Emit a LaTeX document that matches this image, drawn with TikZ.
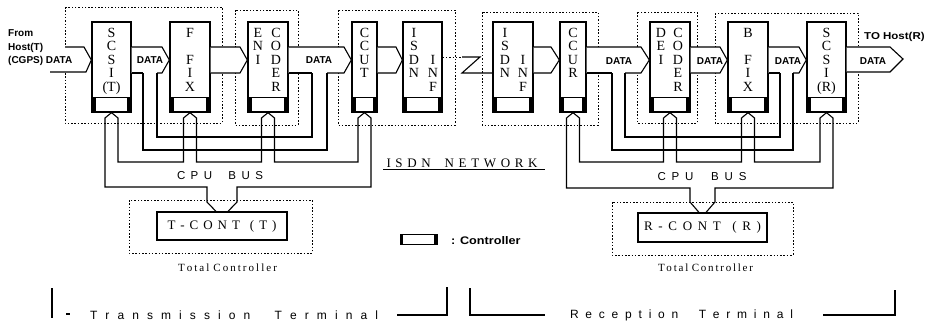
\documentclass[tikz,border=0pt]{standalone}
\usepackage{fontspec}
\usepackage{graphicx}
\setmainfont{Liberation Serif}
\setsansfont{Liberation Sans}
\usetikzlibrary{calc}
\newcommand\hg{\hfil}
\newcommand\sprd[2]{\makebox[#1][s]{#2}}
\newcommand\ctrlbox[1]{%
  \draw[line width=0.9pt] ($(#1.south west)+(1.5,-15)$) rectangle ($(#1.south east)+(-1.5,0)$);
  \fill ($(#1.south west)+(1.5,-15)$) rectangle ($(#1.south west)+(5,0)$);
  \fill ($(#1.south east)+(-4.5,-15)$) rectangle ($(#1.south east)+(-1.5,0)$);}
\tikzset{
  modbox/.style={draw, line width=1.3pt, minimum height=90pt, inner sep=0pt},
  stack/.style={font=\fontsize{14}{13.5}\selectfont, align=center, inner sep=0pt, anchor=north},
  dots/.style={line width=0.8pt, dash pattern=on 1.5pt off 1.8pt},
  wire/.style={line width=1.1pt, line join=miter},
  lbl/.style={font=\sffamily\bfseries\fontsize{10}{13.5}\selectfont, inner sep=0pt},
  dlbl/.style={font=\sffamily\bfseries\fontsize{10}{12}\selectfont, inner sep=0pt},
  buslbl/.style={font=\sffamily\fontsize{11.5}{13}\selectfont, inner sep=0pt},
  contbox/.style={draw, line width=1.2pt, inner sep=0pt, font=\fontsize{13}{15}\selectfont},
  smallser/.style={font=\fontsize{11}{12}\selectfont, inner sep=0pt},
  termlbl/.style={font=\sffamily\fontsize{12}{14}\selectfont, inner sep=0pt}
}
\begin{document}
\begin{tikzpicture}[x=1pt,y=-1pt]
\fill[white] (0,0) rectangle (930,327);
\useasboundingbox (0,0) rectangle (930,327);

% dotted group boxes
\draw[dots] (65,7) rectangle (222,123);
\draw[dots] (235,10) rectangle (298,125);
\draw[dots] (338,10) rectangle (455,125);
\draw[dots] (482,12) rectangle (598,125);
\draw[dots] (637,12) rectangle (697,123);
\draw[dots] (715,13) rectangle (858,123);
\draw[dots] (129,200) rectangle (312,253);
\draw[dots] (612,202) rectangle (793,255);

% modules
\node[modbox, minimum width=39pt] (scsiT) at (111.5,67) {};
\node[modbox, minimum width=40pt] (ffix)  at (190,67) {};
\node[modbox, minimum width=40pt] (enc)   at (268,67) {};
\node[modbox, minimum width=25pt] (ccut)  at (364.5,67) {};
\node[modbox, minimum width=39pt] (isdnT) at (422.5,67) {};
\node[modbox, minimum width=40pt] (isdnR) at (513,67) {};
\node[modbox, minimum width=26pt] (ccur)  at (573,67) {};
\node[modbox, minimum width=40pt] (dec)   at (670,67) {};
\node[modbox, minimum width=40pt] (bfix)  at (748,67) {};
\node[modbox, minimum width=39pt] (scsiR) at (826.5,67) {};

\foreach \m in {scsiT,ffix,enc,ccut,isdnT,isdnR,ccur,dec,bfix,scsiR}{\ctrlbox{\m}}

% module texts
\node[stack] (tS)  at (111.5,28) {S\\C\\S\\I\\(T)};
\node[stack] (tF)  at (190,28) {F\\\phantom{F}\\F\\I\\X};
\node[stack] (tE1) at (258,28) {E\\N\\I};
\node[stack] (tE2) at (276,28) {C\\O\\D\\E\\R};
\node[stack] (tC)  at (364.5,28) {C\\C\\U\\T};
\node[stack] (tI1) at (414,28) {I\\S\\D\\N};
\node[stack] (tI2) at (433,28) {\phantom{I}\\\phantom{I}\\I\\N\\F};
\node[stack] (rI1) at (505,28) {I\\S\\D\\N};
\node[stack] (rI2) at (523,28) {\phantom{I}\\\phantom{I}\\I\\N\\F};
\node[stack] (rC)  at (573,28) {C\\C\\U\\R};
\node[stack] (rD1) at (661,28) {D\\E\\I};
\node[stack] (rD2) at (678,28) {C\\O\\D\\E\\R};
\node[stack] (rB)  at (748,28) {B\\\phantom{F}\\F\\I\\X};
\node[stack] (rS)  at (826.5,28) {S\\C\\S\\I\\(R)};

% controllers (total)
\node[contbox, minimum width=130pt, minimum height=28pt] (tcont) at (222,226)
  {\sprd{109pt}{T\hg -\hg C\hg O\hg N\hg T\hg\hg (\hg T\hg )}};
\node[contbox, minimum width=129pt, minimum height=29pt] (rcont) at (702.5,227.5)
  {\sprd{117pt}{R\hg -\hg C\hg O\hg N\hg T\hg\hg (\hg R\hg )}};

% data arrows
\coordinate (inL) at (50,72);
\fill[white] (50,47) -- (84,47) -- (scsiT.west |- 0,60) -- (86,72) -- (inL) -- cycle;
\draw[wire] (65,47) -- (84,47) -- (scsiT.west |- 0,60) -- (86,72) -- (inL);

\fill[white] (scsiT.east |- 0,47) -- (162,47) -- (ffix.west |- 0,60) -- (162,73) -- (scsiT.east |- 0,73) -- cycle;
\draw[wire] (scsiT.east |- 0,47) -- (162,47) -- (ffix.west |- 0,60) -- (162,73) -- (157,73);
\draw[wire] (143,73) -- (scsiT.east |- 0,73);

\fill[white] (ffix.east |- 0,47) -- (240,47) -- (enc.west |- 0,60) -- (240,73) -- (ffix.east |- 0,73) -- cycle;
\draw[wire] (ffix.east |- 0,47) -- (240,47) -- (enc.west |- 0,60) -- (240,73) -- (ffix.east |- 0,73);

\fill[white] (enc.east |- 0,47) -- (344,47) -- (ccut.west |- 0,60) -- (344,73) -- (enc.east |- 0,73) -- cycle;
\draw[wire] (enc.east |- 0,47) -- (344,47) -- (ccut.west |- 0,60) -- (344,73) -- (327,73);
\draw[wire] (312,73) -- (enc.east |- 0,73);

\fill[white] (ccut.east |- 0,47) -- (396,47) -- (isdnT.west |- 0,60) -- (396,73) -- (ccut.east |- 0,73) -- cycle;
\draw[wire] (ccut.east |- 0,47) -- (396,47) -- (isdnT.west |- 0,60) -- (396,73) -- (ccut.east |- 0,73);

\fill[white] (isdnR.east |- 0,47) -- (551,47) -- (ccur.west |- 0,60) -- (551,73) -- (isdnR.east |- 0,73) -- cycle;
\draw[wire] (isdnR.east |- 0,47) -- (551,47) -- (ccur.west |- 0,60) -- (551,73) -- (isdnR.east |- 0,73);

\fill[white] (ccur.east |- 0,47) -- (641,47) -- (dec.west |- 0,60) -- (641,73) -- (ccur.east |- 0,73) -- cycle;
\draw[wire] (ccur.east |- 0,47) -- (641,47) -- (dec.west |- 0,60) -- (641,73) -- (625,73);
\draw[wire] (612,73) -- (ccur.east |- 0,73);

\fill[white] (dec.east |- 0,47) -- (720,47) -- (bfix.west |- 0,60) -- (720,73) -- (dec.east |- 0,73) -- cycle;
\draw[wire] (dec.east |- 0,47) -- (720,47) -- (bfix.west |- 0,60) -- (720,73) -- (dec.east |- 0,73);

\fill[white] (bfix.east |- 0,47) -- (799,47) -- (scsiR.west |- 0,60) -- (799,73) -- (bfix.east |- 0,73) -- cycle;
\draw[wire] (bfix.east |- 0,47) -- (799,47) -- (scsiR.west |- 0,60) -- (799,73) -- (793,73);
\draw[wire] (780,73) -- (bfix.east |- 0,73);

\coordinate (outtip) at (903,59);
\fill[white] (scsiR.east |- 0,47) -- (890,47) -- (outtip) -- (890,72) -- (scsiR.east |- 0,72) -- cycle;
\draw[wire] (scsiR.east |- 0,47) -- (890,47) -- (outtip) -- (890,72) -- (scsiR.east |- 0,72);

% ISDN link
\draw[dots] (isdnT.east |- 0,57) -- (462,57);
\draw[wire] (462,57) -- (480,57) -- (462,73) -- (isdnR.west |- 0,73);

% data buses
\draw[wire] (157,73) -- (157,137) -- (312,137) -- (312,73);
\draw[wire] (143,73) -- (143,150) -- (327,150) -- (327,73);
\draw[wire] (625,73) -- (625,137) -- (780,137) -- (780,73);
\draw[wire] (612,73) -- (612,150) -- (793,150) -- (793,73);

% CPU bus transmission
\draw[wire] (scsiT.south) -- (105,118) -- (105,187) -- (207,187) -- (207,202) -- (tcont.north -| 216,0);
\draw[wire] (tcont.north -| 228,0) -- (237,202) -- (237,187) -- (371,187) -- (371,118) -- (ccut.south);
\draw[wire] (scsiT.south) -- (118,118) -- (118,162) -- (183.5,162) -- (183.5,118) -- (ffix.south)
  -- (196.5,118) -- (196.5,162) -- (261.5,162) -- (261.5,118) -- (enc.south)
  -- (274.5,118) -- (274.5,162) -- (358,162) -- (358,118) -- (ccut.south);

% CPU bus reception
\draw[wire] (ccur.south) -- (566.5,118) -- (566.5,188) -- (690,188) -- (690,202) -- (rcont.north -| 699,0);
\draw[wire] (rcont.north -| 706,0) -- (715,202) -- (715,188) -- (833,188) -- (833,118) -- (scsiR.south);
\draw[wire] (ccur.south) -- (579.5,118) -- (579.5,162) -- (663.5,162) -- (663.5,118) -- (dec.south)
  -- (676.5,118) -- (676.5,162) -- (741.5,162) -- (741.5,118) -- (bfix.south)
  -- (754.5,118) -- (754.5,162) -- (820,162) -- (820,118) -- (scsiR.south);

% labels
\node[lbl, align=left, anchor=north west] (from) at (8,29.5) {From\\Host(T)\\(CGPS) DATA};
\node[lbl, anchor=west] (tohost) at (864,37) {\scalebox{1.15}[1]{TO Host(R)}};
\node[dlbl] (d1) at (150,60) {DATA};
\node[dlbl] (d2) at (319,60) {DATA};
\node[dlbl] (d3) at (619,61) {DATA};
\node[dlbl] (d4) at (710,61) {DATA};
\node[dlbl] (d5) at (788,61) {DATA};
\node[dlbl] (d6) at (873,61) {DATA};

\node[buslbl] (cpuT) at (220,176) {\sprd{86pt}{C\hg P\hg U\hg\hg\hg B\hg U\hg S}};
\node[buslbl] (cpuR) at (702,177) {\sprd{89pt}{C\hg P\hg U\hg\hg\hg B\hg U\hg S}};

\node[font=\fontsize{13}{15}\selectfont, inner sep=0pt] (isdnnet) at (462,163)
  {\sprd{151pt}{I\hg S\hg D\hg N\hg\hg\hg N\hg E\hg T\hg W\hg O\hg R\hg K}};
\draw[line width=1pt] (383,169.5) -- (545,169.5);

\node[smallser] (totT) at (227.5,268) {\sprd{99pt}{T\hg o\hg t\hg a\hg l\hg\hg C\hg o\hg n\hg t\hg r\hg o\hg l\hg l\hg e\hg r}};
\node[smallser] (totR) at (705.5,268) {\sprd{95pt}{T\hg o\hg t\hg a\hg l\hg\hg C\hg o\hg n\hg t\hg r\hg o\hg l\hg l\hg e\hg r}};

% legend
\node[draw, line width=1pt, minimum width=37pt, minimum height=10pt, inner sep=0pt] (legend) at (418.5,239) {};
\fill (legend.north west) rectangle ($(legend.south west)+(3.5,0)$);
\fill ($(legend.north east)+(-4,0)$) rectangle (legend.south east);
\node[lbl, anchor=west] (legtxt) at (451,241) {\scalebox{1.15}[1]{\fontsize{11}{13}\selectfont : Controller}};

% terminals
\node[termlbl] (tterm) at (234,315) {\sprd{288pt}{T\hg r\hg a\hg n\hg s\hg m\hg i\hg s\hg s\hg i\hg o\hg n\hg\hg\hg T\hg e\hg r\hg m\hg i\hg n\hg a\hg l}};
\node[termlbl] (rterm) at (681.5,315) {\sprd{223pt}{R\hg e\hg c\hg e\hg p\hg t\hg i\hg o\hg n\hg\hg\hg T\hg e\hg r\hg m\hg i\hg n\hg a\hg l}};
\draw[wire] (52,288) -- (52,318);
\draw[wire] (66,314) -- (70,314);
\draw[wire] (397,315) -- (447,315) -- (447,287);
\draw[wire] (470,288) -- (470,315) -- (545,315);
\draw[wire] (823,315) -- (895,315) -- (895,290);
\end{tikzpicture}
\end{document}
